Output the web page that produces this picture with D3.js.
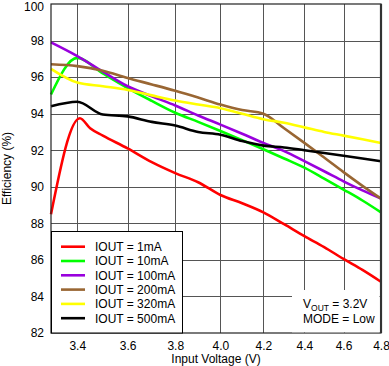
<!DOCTYPE html>
<html>
<head>
<meta charset="utf-8">
<script src="https://cdn.jsdelivr.net/npm/d3@7"></script>
<style>
  body { margin: 0; background: #fff; }
  svg { display: block; font-family: "Liberation Sans", Arial, sans-serif; }
</style>
</head>
<body>
<script>
var width = 389;
var height = 366;
var margin = { top: 4, right: 8, bottom: 33, left: 51 };

// input voltage (V)
var vin = [3.3, 3.4, 3.5, 3.6, 3.7, 3.8, 3.9, 4.0, 4.1, 4.2, 4.3, 4.4, 4.5, 4.6, 4.7, 4.8];
var vinRed = [3.3, 3.41, 3.45, 3.5, 3.6, 3.7, 3.8, 3.9, 4.0, 4.1, 4.2, 4.3, 4.4, 4.5, 4.6, 4.7, 4.8];

var eff1mA = [88.5, 93.75, 93.2, 92.8, 92.1, 91.35, 90.75, 90.25, 89.55, 89.1, 88.6, 87.95, 87.3, 86.7, 86.05, 85.45, 84.8];
var eff10mA = [95.05, 97.05, 96.2, 95.4, 94.7, 94.05, 93.55, 93.05, 92.55, 92.05, 91.55, 91.05, 90.45, 89.85, 89.25, 88.6];
var eff100mA = [97.9, 97.15, 96.3, 95.5, 94.95, 94.45, 93.9, 93.4, 92.9, 92.4, 91.95, 91.4, 90.85, 90.3, 89.8, 89.35];
var eff200mA = [96.7, 96.6, 96.35, 95.95, 95.6, 95.25, 94.88, 94.5, 94.2, 94.0, 93.2, 92.4, 91.6, 90.8, 90.05, 89.35];
var eff320mA = [96.45, 95.7, 95.5, 95.3, 95.0, 94.72, 94.5, 94.3, 94.0, 93.7, 93.5, 93.25, 93.0, 92.8, 92.6, 92.4];
var eff500mA = [94.4, 94.65, 93.95, 93.85, 93.55, 93.35, 93.0, 92.85, 92.5, 92.25, 92.15, 92.0, 91.85, 91.7, 91.55, 91.4];

var seriesNames = ["IOUT = 1mA", "IOUT = 10mA", "IOUT = 100mA", "IOUT = 200mA", "IOUT = 320mA", "IOUT = 500mA"];
var seriesColors = ["#ff0000", "#00ff00", "#9900dd", "#996633", "#ffff00", "#000000"];

var xTicks = [3.4, 3.6, 3.8, 4.0, 4.2, 4.4, 4.6, 4.8];
var yTicks = [82, 84, 86, 88, 90, 92, 94, 96, 98, 100];

var series = [
  { name: seriesNames[0], x: vinRed, y: eff1mA, color: seriesColors[0] },
  { name: seriesNames[1], x: vin, y: eff10mA, color: seriesColors[1] },
  { name: seriesNames[2], x: vin, y: eff100mA, color: seriesColors[2] },
  { name: seriesNames[3], x: vin, y: eff200mA, color: seriesColors[3] },
  { name: seriesNames[4], x: vin, y: eff320mA, color: seriesColors[4] },
  { name: seriesNames[5], x: vin, y: eff500mA, color: seriesColors[5] }
];

var svg = d3.select("body").append("svg")
  .attr("width", width)
  .attr("height", height);

var xScale = d3.scaleLog()
  .domain([3.3, 4.8])
  .range([margin.left, width - margin.right]);

var yScale = d3.scaleLinear()
  .domain([82, 100])
  .range([height - margin.bottom, margin.top]);

// grid
var grid = svg.append("g").attr("stroke", "#555").attr("stroke-width", 1);
grid.selectAll("line.gx")
  .data(xTicks.slice(0, -1))
  .enter().append("line")
  .attr("x1", d => Math.round(xScale(d)) + 0.5)
  .attr("x2", d => Math.round(xScale(d)) + 0.5)
  .attr("y1", margin.top)
  .attr("y2", height - margin.bottom);
grid.selectAll("line.gy")
  .data(yTicks.slice(1, -1))
  .enter().append("line")
  .attr("y1", d => Math.round(yScale(d)) + 0.5)
  .attr("y2", d => Math.round(yScale(d)) + 0.5)
  .attr("x1", margin.left)
  .attr("x2", width - margin.right);

// lines
var line = d3.line()
  .x(d => xScale(d[0]))
  .y(d => yScale(d[1]))
  .curve(d3.curveMonotoneX);

svg.append("g").selectAll("path")
  .data(series)
  .enter().append("path")
  .attr("fill", "none")
  .attr("stroke", d => d.color)
  .attr("stroke-width", 2.6)
  .attr("stroke-linejoin", "round")
  .attr("d", d => line(d.x.map((v, i) => [v, d.y[i]])));

// plot frame
svg.append("rect")
  .attr("x", margin.left)
  .attr("y", margin.top)
  .attr("width", width - margin.left - margin.right)
  .attr("height", height - margin.top - margin.bottom)
  .attr("fill", "none")
  .attr("stroke", "#222")
  .attr("stroke-width", 1.2);
svg.append("line")
  .attr("x1", width - margin.right).attr("x2", width - margin.right)
  .attr("y1", margin.top).attr("y2", height - margin.bottom)
  .attr("stroke", "#333").attr("stroke-width", 2.2);

// axes
var axisX = d3.axisBottom(xScale).tickValues(xTicks).tickSize(0).tickPadding(8)
  .tickFormat(d3.format(".1f"));
var gx = svg.append("g")
  .attr("transform", "translate(0," + (height - margin.bottom) + ")")
  .call(axisX);
gx.select(".domain").remove();
gx.selectAll("text").attr("font-size", 12).attr("fill", "#000").attr("font-family", "Liberation Sans, Arial, sans-serif");

var axisY = d3.axisLeft(yScale).tickValues(yTicks).tickSize(0).tickPadding(7)
  .tickFormat(d3.format("d"));
var gy = svg.append("g")
  .attr("transform", "translate(" + margin.left + ",0)")
  .call(axisY);
gy.select(".domain").remove();
gy.selectAll("text").attr("font-size", 12).attr("fill", "#000").attr("font-family", "Liberation Sans, Arial, sans-serif");
// keep the top label inside the picture
gy.selectAll("text").filter(d => d === 100).attr("dy", "0.5em");

svg.append("text")
  .attr("x", (margin.left + width - margin.right) / 2)
  .attr("y", 363)
  .attr("text-anchor", "middle")
  .attr("font-size", 12)
  .text("Input Voltage (V)");

svg.append("text")
  .attr("transform", "translate(11," + ((margin.top + height - margin.bottom) / 2) + ") rotate(-90)")
  .attr("text-anchor", "middle")
  .attr("font-size", 12)
  .text("Efficiency (%)");

// legend
var legend = svg.append("g");
legend.append("rect")
  .attr("x", margin.left + 0.5)
  .attr("y", 231.5)
  .attr("width", 131)
  .attr("height", height - margin.bottom - 231.5)
  .attr("fill", "#fff")
  .attr("stroke", "#000")
  .attr("stroke-width", 1);
var items = legend.selectAll("g.item")
  .data(series)
  .enter().append("g")
  .attr("transform", (d, i) => "translate(0," + (246.7 + i * 14.3) + ")");
items.append("line")
  .attr("x1", 61).attr("x2", 85)
  .attr("stroke", d => d.color)
  .attr("stroke-width", 2.6);
items.append("text")
  .attr("x", 95)
  .attr("dy", "0.36em")
  .attr("font-size", 12)
  .text(d => d.name);

// condition note
svg.append("rect")
  .attr("x", 292).attr("y", 290)
  .attr("width", width - margin.right - 1.5 - 292)
  .attr("height", height - margin.bottom - 0.7 - 290)
  .attr("fill", "#fff");
var note = svg.append("text").attr("x", 303).attr("y", 308).attr("font-size", 12);
note.append("tspan").text("V");
note.append("tspan").attr("font-size", 8.5).attr("dy", 3).text("OUT");
note.append("tspan").attr("dy", -3).text(" = 3.2V");
svg.append("text").attr("x", 303).attr("y", 322.5).attr("font-size", 12).text("MODE = Low");
</script>
</body>
</html>
